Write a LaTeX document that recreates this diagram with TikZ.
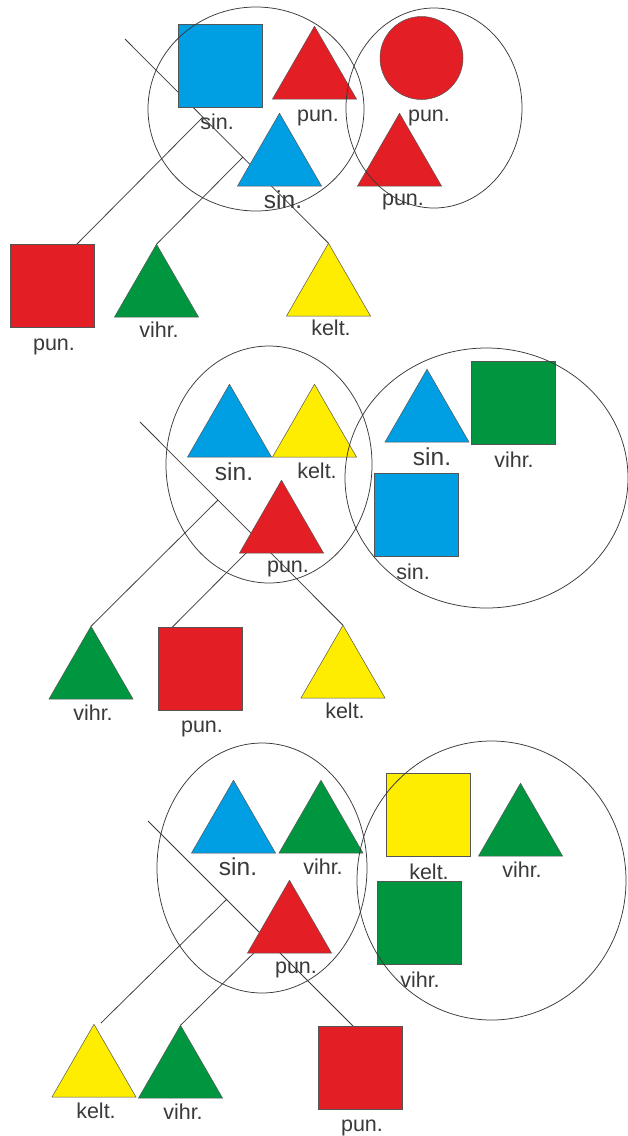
\documentclass[tikz,border=0pt]{standalone}
\usepackage{fontspec}
\setmainfont{Liberation Sans}
\usetikzlibrary{shapes.geometric,calc,backgrounds}
\definecolor{cblue}{HTML}{009FE3}
\definecolor{cred}{HTML}{E31E24}
\definecolor{cgreen}{HTML}{009640}
\definecolor{cyellow}{HTML}{FFED00}
\definecolor{ink}{HTML}{3A3A3A}
\definecolor{rim}{HTML}{555555}
\begin{document}
\begin{tikzpicture}[x=1pt,y=-1pt,
  tri/.style={regular polygon, regular polygon sides=3, minimum size=97pt,
    inner sep=0pt, outer sep=0pt, draw=rim, line width=0.5pt},
  sq/.style={rectangle, minimum width=84pt, minimum height=83pt,
    inner sep=0pt, outer sep=0pt, draw=rim, line width=0.5pt},
  disc/.style={circle, minimum size=83pt, inner sep=0pt, outer sep=0pt,
    draw=rim, line width=0.5pt},
  lbl/.style={anchor=base, inner sep=0pt, text=ink,
    font=\fontsize{21.5}{24}\selectfont},
  biglbl/.style={lbl, font=\fontsize{24.5}{28}\selectfont},
  branch/.style={draw=ink, line width=0.75pt},
  ring/.style={draw=ink, line width=0.75pt}]
\useasboundingbox (0,0) rectangle (628,1136);
\begin{scope}[on background layer]
  \fill[white] (0,0) rectangle (628,1136);
\end{scope}

% ---------- first set ----------
\node[sq, fill=cblue]   (p1bs) at (220,65.5) {};
\node[tri, fill=cred]   (p1rt) at (314.5,74.75) {};
\node[disc, fill=cred]  (p1rc) at (421.5,58) {};
\node[tri, fill=cblue]  (p1bt) at (279.5,161.75) {};
\node[tri, fill=cred]   (p1rt2) at (399.5,161.75) {};
\node[sq, fill=cred]    (p1r) at (52.5,286) {};
\node[tri, fill=cgreen] (p1g) at (156.5,292.75) {};
\node[tri, fill=cyellow] (p1y) at (328.5,291.75) {};

\node[lbl] (l1a) at (217,129) {sin.};
\node[lbl] (l1b) at (318,121) {pun.};
\node[lbl] (l1c) at (429,121) {pun.};
\node[biglbl] (l1d) at (283,208) {sin.};
\node[lbl] (l1e) at (403,205) {pun.};
\node[lbl] (l1f) at (54,350) {pun.};
\node[lbl] (l1g) at (159,337) {vihr.};
\node[lbl] (l1h) at (331,335) {kelt.};

\coordinate (a1) at (125,39);
\coordinate (a1j1) at (203,117);
\coordinate (a1j2) at (243,157);
\begin{scope}[on background layer]
  \draw[branch] (a1) -- (p1y.corner 1);
  \draw[branch] ($(p1r.north west)+(66,0)$) -- (a1j1);
  \draw[branch] (p1g.corner 1) -- (a1j2);
\end{scope}
\draw[ring] (256,109) ellipse [x radius=108pt, y radius=102pt];
\draw[ring] (434,108) ellipse [x radius=88pt, y radius=100pt];

% ---------- second set ----------
\node[tri, fill=cblue]   (p2bt) at (229.5,432.75) {};
\node[tri, fill=cyellow] (p2yt) at (314.5,432.75) {};
\node[tri, fill=cred]    (p2rt) at (281.5,528.75) {};
\node[tri, fill=cblue]   (p2bt2) at (427,417.75) {};
\node[sq, fill=cgreen]   (p2gs) at (513.5,402.5) {};
\node[sq, fill=cblue]    (p2bs) at (416,514.5) {};
\node[tri, fill=cgreen]  (p2g) at (91,674.75) {};
\node[sq, fill=cred]     (p2r) at (200.5,668.5) {};
\node[tri, fill=cyellow] (p2y) at (343,673.75) {};

\node[biglbl] (l2a) at (234,480) {sin.};
\node[lbl] (l2b) at (317,478) {kelt.};
\node[lbl] (l2c) at (288,572) {pun.};
\node[biglbl] (l2d) at (432,465) {sin.};
\node[lbl] (l2e) at (514,467) {vihr.};
\node[lbl] (l2f) at (413,579) {sin.};
\node[lbl] (l2g) at (93,720) {vihr.};
\node[lbl] (l2h) at (202,732) {pun.};
\node[lbl] (l2i) at (345,718) {kelt.};

\coordinate (a2) at (140,422);
\coordinate (a2j1) at (218,500);
\coordinate (a2j2) at (258.5,540.5);
\begin{scope}[on background layer]
  \draw[branch] (a2) -- (p2y.corner 1);
  \draw[branch] (p2g.corner 1) -- (a2j1);
  \draw[branch] ($(p2r.north west)+(14,0)$) -- (a2j2);
\end{scope}
\draw[ring] (269,464.5) ellipse [x radius=103pt, y radius=118.5pt];
\draw[ring] (486.5,478) ellipse [x radius=141.5pt, y radius=130pt];

% ---------- third set ----------
\node[tri, fill=cblue]   (p3bt) at (233.5,828.75) {};
\node[tri, fill=cgreen]  (p3gt) at (321,828.75) {};
\node[tri, fill=cred]    (p3rt) at (289.5,928.75) {};
\node[sq, fill=cyellow]  (p3ys) at (428.5,814.5) {};
\node[tri, fill=cgreen]  (p3gt2) at (520.5,831.75) {};
\node[sq, fill=cgreen]   (p3gs) at (419.5,922.5) {};
\node[tri, fill=cyellow] (p3y) at (94,1072.75) {};
\node[tri, fill=cgreen]  (p3g) at (180.5,1073.75) {};
\node[sq, fill=cred]     (p3r) at (360,1067.5) {};

\node[biglbl] (l3a) at (238,875) {sin.};
\node[lbl] (l3b) at (323,874) {vihr.};
\node[lbl] (l3c) at (296,973) {pun.};
\node[lbl] (l3d) at (429,879) {kelt.};
\node[lbl] (l3e) at (522,877) {vihr.};
\node[lbl] (l3f) at (420,987) {vihr.};
\node[lbl] (l3g) at (96,1118) {kelt.};
\node[lbl] (l3h) at (183,1119) {vihr.};
\node[lbl] (l3i) at (362,1131) {pun.};

\coordinate (a3) at (148,821);
\coordinate (a3j1) at (227,899);
\coordinate (a3j2) at (267,940);
\coordinate (a3y) at (101,1023);
\begin{scope}[on background layer]
  \draw[branch] (a3) -- ($(p3r.north west)+(35,0)$);
  \draw[branch] (a3y) -- (a3j1);
  \draw[branch] (p3g.corner 1) -- (a3j2);
\end{scope}
\draw[ring] (262,868) ellipse [x radius=105pt, y radius=125pt];
\draw[ring] (491.5,880.5) ellipse [x radius=134.5pt, y radius=139.5pt];
\end{tikzpicture}
\end{document}
